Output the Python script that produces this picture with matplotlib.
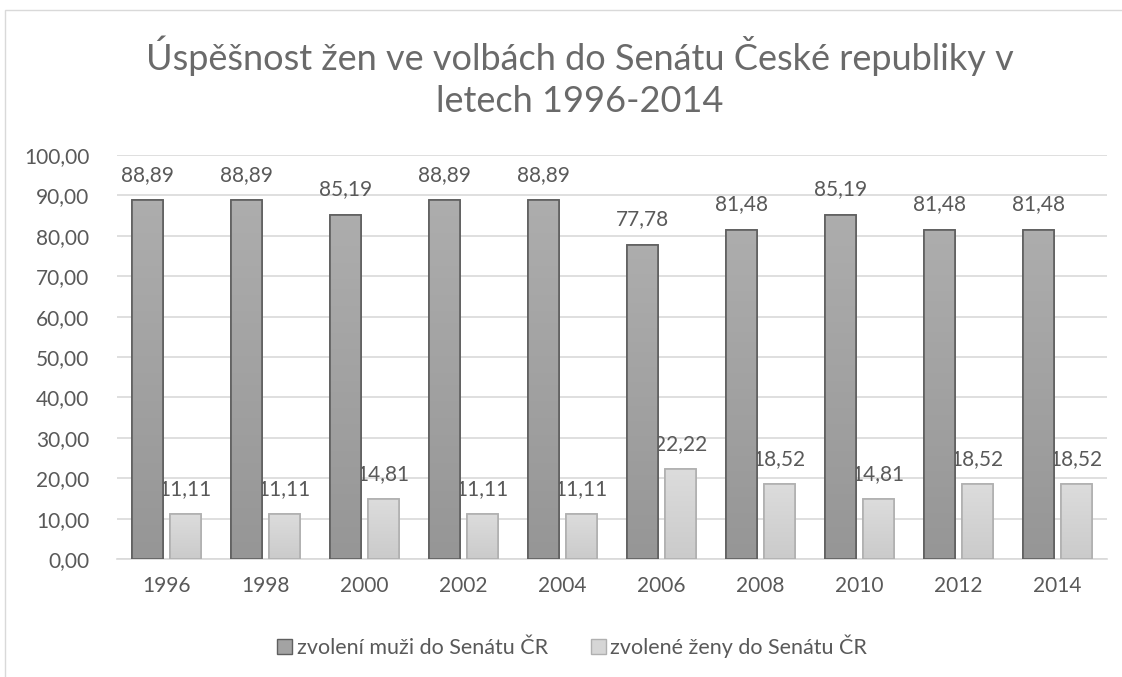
import numpy as np
import matplotlib
matplotlib.use('Agg')
import matplotlib.pyplot as plt
from matplotlib.patches import Rectangle, Patch

years = ['1996', '1998', '2000', '2002', '2004', '2006', '2008', '2010', '2012', '2014']
muzi = [88.89, 88.89, 85.19, 88.89, 88.89, 77.78, 81.48, 85.19, 81.48, 81.48]
zeny = [11.11, 11.11, 14.81, 11.11, 11.11, 22.22, 18.52, 14.81, 18.52, 18.52]
yticks = np.arange(0, 101, 10)

plt.rcParams['font.family'] = ['Lato', 'DejaVu Sans']
txt = '#595959'

fig = plt.figure(figsize=(11.22, 6.77), dpi=100)
# chart border (cropped on right/bottom like the source)
fig.patches.append(Rectangle((5/1122, -0.1), 2, 1 - 10/677 + 0.1, transform=fig.transFigure,
                             fill=False, edgecolor='#d9d9d9', linewidth=1))
ax = fig.add_axes([117/1122, 1 - 559/677, 990/1122, 404/677])

x = np.arange(len(years))
b1 = ax.bar(x - 0.19, muzi, 0.31, color='#a3a3a3', edgecolor='#5f5f5f', linewidth=1.2, zorder=3)
b2 = ax.bar(x + 0.19, zeny, 0.31, color='#d6d6d6', edgecolor='#b0b0b0', linewidth=1.2, zorder=3)

# subtle vertical gradient like Excel fill
def shade(bars, top, bottom):
    grad = np.linspace(0, 1, 64).reshape(-1, 1)
    cmap = matplotlib.colors.LinearSegmentedColormap.from_list('g', [top, bottom])
    for b in bars:
        x0, w, h = b.get_x(), b.get_width(), b.get_height()
        im = ax.imshow(grad, cmap=cmap, aspect='auto', extent=(x0, x0 + w, 0, h),
                       origin='upper', zorder=3.5)
        im.set_clip_path(b)
        ax.add_patch(Rectangle((x0, 0), w, h, fill=False, edgecolor=b.get_edgecolor(),
                               linewidth=1.2, zorder=4))

shade(b1, '#adadad', '#969696')
shade(b2, '#dcdcdc', '#cbcbcb')

fmt = lambda v: '{:.2f}'.format(v).replace('.', ',')
ax.bar_label(b1, labels=[fmt(v) for v in muzi], padding=11, fontsize=15, color=txt)
ax.bar_label(b2, labels=[fmt(v) for v in zeny], padding=11, fontsize=15, color=txt)

ax.set_xlim(-0.5, len(years) - 0.5)
ax.set_ylim(0, 100)
ax.set_yticks(yticks)
ax.set_yticklabels([fmt(v) for v in yticks])
ax.set_xticks(x)
ax.set_xticklabels(years)
ax.tick_params(length=0, labelsize=15, colors=txt)
ax.tick_params(axis='y', pad=20)
ax.tick_params(axis='x', pad=12)
ax.grid(axis='y', color='#d9d9d9', linewidth=1.2, zorder=0)
for s in ['top', 'right', 'left']:
    ax.spines[s].set_visible(False)
ax.spines['bottom'].set_color('#d9d9d9')
ax.spines['bottom'].set_linewidth(1.2)

fig.suptitle('Úspěšnost žen ve volbách do Senátu České republiky v\nletech 1996-2014',
             x=0.517, y=1 - 36/677, fontsize=26, color='#6a6a6a', linespacing=1.3, va='top')

handles = [Patch(facecolor='#a3a3a3', edgecolor='#5f5f5f'),
           Patch(facecolor='#d6d6d6', edgecolor='#b0b0b0')]
fig.legend(handles, ['zvolení muži do Senátu ČR', 'zvolené ženy do Senátu ČR'],
           loc='center', bbox_to_anchor=(0.51, 1 - 646/677), ncol=2, frameon=False,
           fontsize=15.5, labelcolor=txt, handlelength=0.7, handleheight=0.7,
           handletextpad=0.2, columnspacing=2.0)

fig.savefig('out.png', dpi=100)
